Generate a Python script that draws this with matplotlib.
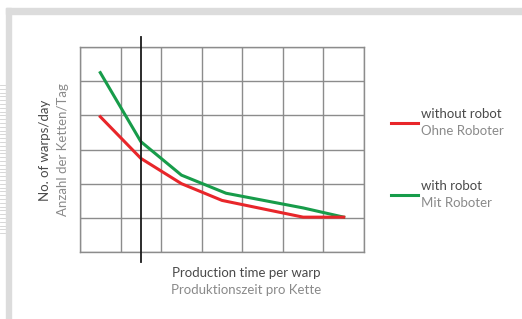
import matplotlib.pyplot as plt
from matplotlib.lines import Line2D
from matplotlib.patches import Rectangle

# data (grid units: 7 columns x 6 rows)
x_without = [0.5, 1.5, 2.5, 3.5, 5.5, 6.5]
y_without = [3.96, 2.74, 2.0, 1.51, 1.02, 1.02]
x_with = [0.5, 1.5, 2.5, 3.6, 5.5, 6.5]
y_with = [5.25, 3.23, 2.25, 1.72, 1.29, 1.02]
marker_x = 1.5

red = "#e8262a"
green = "#179c4a"
dark = "#4a4a4a"
light = "#8a8a8a"
font = ["Lato", "DejaVu Sans"]
fs = 9.5

fig = plt.figure(figsize=(5.22, 3.19), dpi=100)

# light grey card border
fig.patches.append(Rectangle((6 / 522, 0), 5 / 522, 311 / 319, transform=fig.transFigure,
                             color="#dcdcdc", zorder=0))
fig.patches.append(Rectangle((6 / 522, 305 / 319), 516 / 522, 6 / 319, transform=fig.transFigure,
                             color="#dcdcdc", zorder=0))
for i in range(40):
    yy = (85 + i * 3.8) / 319
    fig.add_artist(Line2D([0, 5 / 522], [1 - yy, 1 - yy], transform=fig.transFigure,
                          color="#d0d0d0", lw=0.6))

ax = fig.add_axes([80 / 522, 67 / 319, 284 / 522, 205 / 319])
ax.set_xlim(0, 7)
ax.set_ylim(0, 6)
ax.set_xticks(range(8))
ax.set_yticks(range(7))
ax.tick_params(length=0, labelbottom=False, labelleft=False)
ax.grid(color="#8c8c8c", linewidth=1)
for s in ax.spines.values():
    s.set_color("#8c8c8c")
    s.set_linewidth(1)

ax.plot(x_with, y_with, color=green, lw=2.2, zorder=3)
ax.plot(x_without, y_without, color=red, lw=2.2, zorder=3)
ax.plot([marker_x, marker_x], [-0.3, 6.3], color="#1a1a1a", lw=1.3, clip_on=False, zorder=4)

# axis labels
fig.text(246 / 522, 1 - 273 / 319, "Production time per warp", family=font, fontsize=fs,
         color=dark, ha="center", va="center")
fig.text(246 / 522, 1 - 290 / 319, "Produktionszeit pro Kette", family=font, fontsize=fs,
         color=light, ha="center", va="center")
fig.text(45 / 522, 1 - 150 / 319, "No. of warps/day", family=font, fontsize=fs,
         color=dark, ha="center", va="center", rotation=90)
fig.text(63 / 522, 1 - 150 / 319, "Anzahl der Ketten/Tag", family=font, fontsize=fs,
         color=light, ha="center", va="center", rotation=90)

# legend
for y0, col, t1, t2 in [(123, red, "without robot", "Ohne Roboter"),
                        (195, green, "with robot", "Mit Roboter")]:
    fig.add_artist(Line2D([391 / 522, 418 / 522], [1 - y0 / 319] * 2, transform=fig.transFigure,
                          color=col, lw=2.2))
    fig.text(421 / 522, 1 - (y0 - 9) / 319, t1, family=font, fontsize=fs,
             color=dark, ha="left", va="center")
    fig.text(421 / 522, 1 - (y0 + 8) / 319, t2, family=font, fontsize=fs,
             color=light, ha="left", va="center")

fig.savefig("out.png", dpi=100)
